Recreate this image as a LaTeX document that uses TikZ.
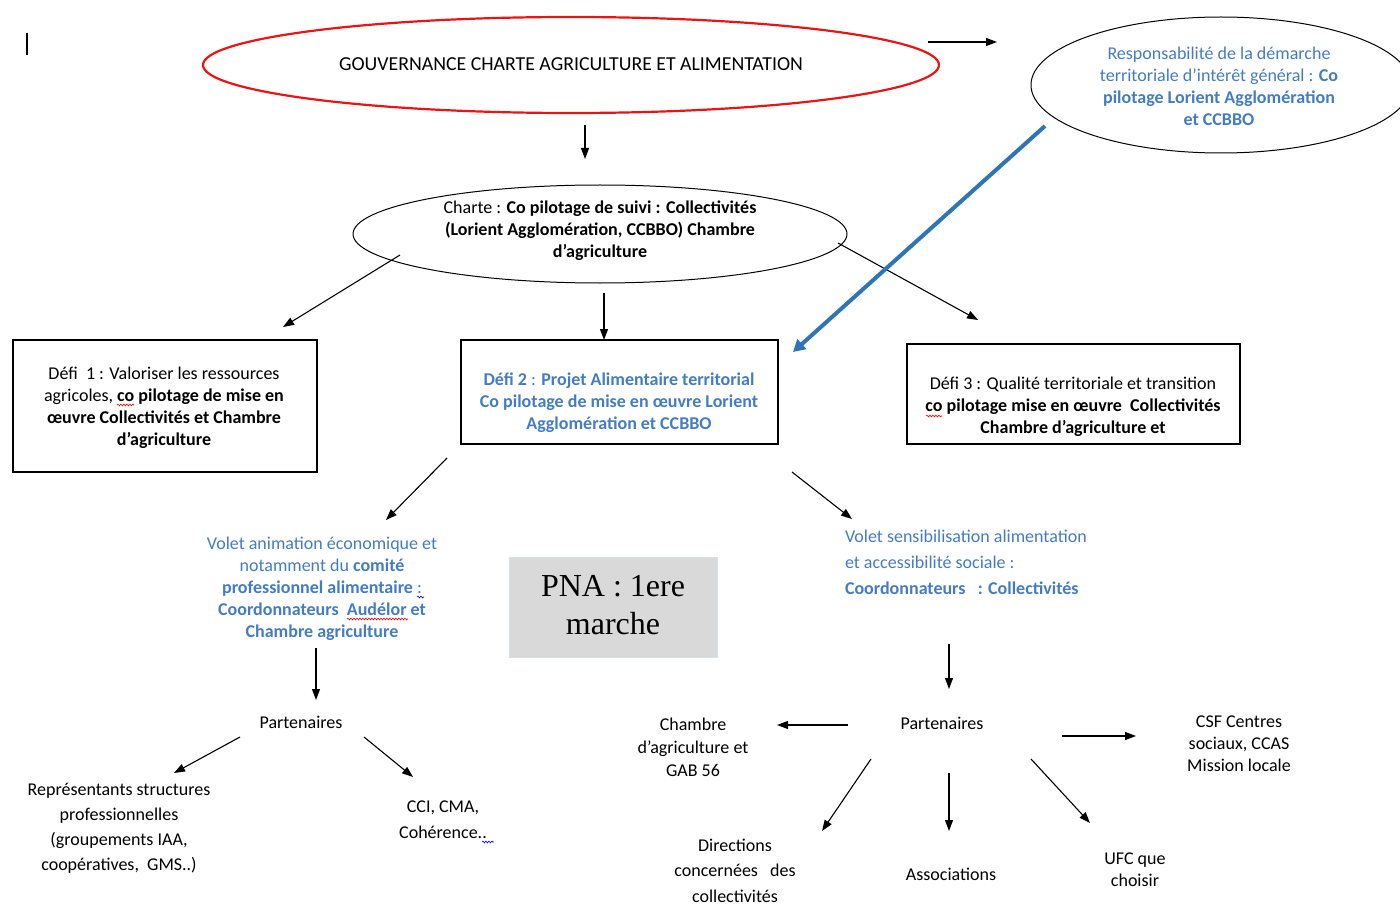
\documentclass[tikz,border=0pt]{standalone}
\usepackage{fontspec}
\setmainfont{Carlito}
\newfontfamily\timesf{Liberation Serif}
\usetikzlibrary{shapes.geometric,arrows.meta,decorations.pathmorphing}
\definecolor{txtblue}{RGB}{68,124,194}
\definecolor{arrblue}{RGB}{46,117,182}
\definecolor{pnagray}{RGB}{217,217,217}
\definecolor{pnaborder}{RGB}{214,224,238}
\definecolor{ered}{RGB}{235,20,20}
\begin{document}
\begin{tikzpicture}[x=1pt,y=-1pt,
  every node/.style={font=\fontsize{18}{22}\selectfont, inner sep=0pt, outer sep=0pt},
  arr/.style={draw=black, line width=1.1pt, -{Triangle[length=11pt,width=8pt]}},
  bluearr/.style={draw=arrblue, line width=4pt, -{Triangle[length=12pt,width=13pt]}},
  ell/.style={draw=black, line width=1pt, ellipse},
  boxx/.style={draw=black, line width=1.2pt, rectangle},
  txt/.style={align=center},
  btxt/.style={align=center, text=txtblue},
  spell/.style={draw=red, line width=0.6pt, decorate, decoration={snake, amplitude=0.9pt, segment length=3pt}},
  spellb/.style={draw=blue, line width=0.6pt, decorate, decoration={snake, amplitude=0.9pt, segment length=3pt}}]
\useasboundingbox (0,0) rectangle (1400,904);

% cursor bar
\coordinate (barA) at (27,33);
\coordinate (barB) at (27,55);
\draw[line width=1.3pt] (barA) -- (barB);

% ellipses
\node[draw=ered, line width=2.2pt, ellipse, minimum width=736pt, minimum height=96pt] (gov) at (571,65) {};
\node[txt, font=\fontsize{19.8}{22}\selectfont] (govt) at (571,64) {GOUVERNANCE CHARTE AGRICULTURE ET ALIMENTATION};

\node[ell, minimum width=380pt, minimum height=136pt] (resp) at (1221,85) {};
\node[btxt] (respt) at (1219,86) {Responsabilité de la démarche\\territoriale d’intérêt général : \textbf{Co}\\\textbf{pilotage Lorient Agglomération}\\\textbf{et CCBBO}};

\node[ell, minimum width=494pt, minimum height=98pt] (charte) at (600,234) {};
\node[txt] (chartet) at (600,230.5) {Charte : \textbf{Co pilotage de suivi : Collectivités}\\\textbf{(Lorient Agglomération, CCBBO) Chambre}\\\textbf{d’agriculture}};

% defi boxes
\node[boxx, minimum width=304pt, minimum height=132pt] (d1) at (165,406) {};
\node[txt] (d1t) at (164,407.5) {Défi~~1 : Valoriser les ressources\\agricoles, \textbf{co pilotage de mise en}\\\textbf{œuvre Collectivités et Chambre}\\\textbf{d’agriculture}};

\node[boxx, minimum width=317pt, minimum height=104pt] (d2) at (619.5,392) {};
\node[btxt] (d2t) at (619,402.5) {\textbf{Défi 2} : \textbf{Projet Alimentaire territorial}\\\textbf{Co pilotage de mise en œuvre Lorient}\\\textbf{Agglomération et CCBBO}};

\node[boxx, minimum width=333pt, minimum height=100pt] (d3) at (1073.5,394) {};
\node[txt] (d3t) at (1073,406.5) {Défi 3 : Qualité territoriale et transition\\\textbf{co pilotage mise en œuvre~~Collectivités}\\\textbf{Chambre d’agriculture et}};

% volets
\node[btxt] (va) at (322,588.5) {Volet animation économique et\\notamment du \textbf{comité}\\\textbf{professionnel alimentaire} :\\\textbf{Coordonnateurs~~Audélor et}\\\textbf{Chambre agriculture}};

\node[draw=pnaborder, line width=1pt, fill=pnagray, minimum width=208pt, minimum height=100pt] (pna) at (613,607) {};
\node[txt, font=\timesf\fontsize{32}{38}\selectfont] (pnat) at (613,605) {PNA : 1ere\\marche};

\node[align=left, anchor=west, text=txtblue, font=\fontsize{18}{26}\selectfont] (vs) at (845,562) {Volet sensibilisation alimentation\\et accessibilité sociale :\\\textbf{Coordonnateurs~~~: Collectivités}};

% partners left
\node[txt] (pl) at (301,722) {Partenaires};
\node[txt, font=\fontsize{18}{25}\selectfont] (rep) at (119,828.5) {Représentants structures\\professionnelles\\(groupements IAA,\\coopératives,~~GMS..)};
\node[txt, font=\fontsize{18}{26}\selectfont] (cci) at (443,820) {CCI, CMA,\\Cohérence..};

% partners right
\node[txt] (pr) at (942,723) {Partenaires};
\node[txt, font=\fontsize{18}{23}\selectfont] (cha) at (693,747) {Chambre\\d’agriculture et\\GAB 56};
\node[txt] (csf) at (1239,744) {CSF Centres\\sociaux, CCAS\\Mission locale};
\node[txt, font=\fontsize{18}{25.5}\selectfont] (dir) at (735,870.5) {Directions\\concernées~~~des\\collectivités};
\node[txt] (asso) at (951,874) {Associations};
\node[txt] (ufc) at (1135,870) {UFC que\\choisir};

% spell-check squiggles
\coordinate (s1a) at (117,405); \coordinate (s1b) at (134,405);
\draw[spell] (s1a) -- (s1b);
\coordinate (s2a) at (926,416); \coordinate (s2b) at (942,416);
\draw[spell] (s2a) -- (s2b);
\coordinate (s3a) at (347,619); \coordinate (s3b) at (408,619);
\draw[spell] (s3a) -- (s3b);
\coordinate (s4a) at (417,597); \coordinate (s4b) at (424,597);
\draw[spellb] (s4a) -- (s4b);
\coordinate (s5a) at (482,842); \coordinate (s5b) at (494,842);
\draw[spellb] (s5a) -- (s5b);

% connectors
\coordinate (a1s) at (928,42);  \coordinate (a1e) at (997,42);
\draw[arr] (a1s) -- (a1e);
\coordinate (a2s) at (585,125); \coordinate (a2e) at (585,159);
\draw[arr] (a2s) -- (a2e);
\coordinate (a3s) at (400,255); \coordinate (a3e) at (283,327);
\draw[arr] (a3s) -- (a3e);
\coordinate (a4s) at (604,293); \coordinate (a4e) at (604,340);
\draw[arr] (a4s) -- (a4e);
\coordinate (a5s) at (838,243); \coordinate (a5e) at (978,320);
\draw[arr] (a5s) -- (a5e);
\coordinate (b1s) at (1045,126); \coordinate (b1e) at (793,352);
\draw[bluearr] (b1s) -- (b1e);
\coordinate (a6s) at (447,458); \coordinate (a6e) at (386,520);
\draw[arr] (a6s) -- (a6e);
\coordinate (a7s) at (792,472); \coordinate (a7e) at (852,519);
\draw[arr] (a7s) -- (a7e);
\coordinate (a8s) at (316,648); \coordinate (a8e) at (316,700);
\draw[arr] (a8s) -- (a8e);
\coordinate (a9s) at (240,737); \coordinate (a9e) at (174,773);
\draw[arr] (a9s) -- (a9e);
\coordinate (a10s) at (364,737); \coordinate (a10e) at (413,777);
\draw[arr] (a10s) -- (a10e);
\coordinate (a11s) at (949,644); \coordinate (a11e) at (949,689);
\draw[arr] (a11s) -- (a11e);
\coordinate (a12s) at (848,725); \coordinate (a12e) at (777,725);
\draw[arr] (a12s) -- (a12e);
\coordinate (a13s) at (1062,736); \coordinate (a13e) at (1136,736);
\draw[arr] (a13s) -- (a13e);
\coordinate (a14s) at (871,759); \coordinate (a14e) at (822,831);
\draw[arr] (a14s) -- (a14e);
\coordinate (a15s) at (949,773); \coordinate (a15e) at (949,831);
\draw[arr] (a15s) -- (a15e);
\coordinate (a16s) at (1031,759); \coordinate (a16e) at (1090,823);
\draw[arr] (a16s) -- (a16e);
\end{tikzpicture}
\end{document}
